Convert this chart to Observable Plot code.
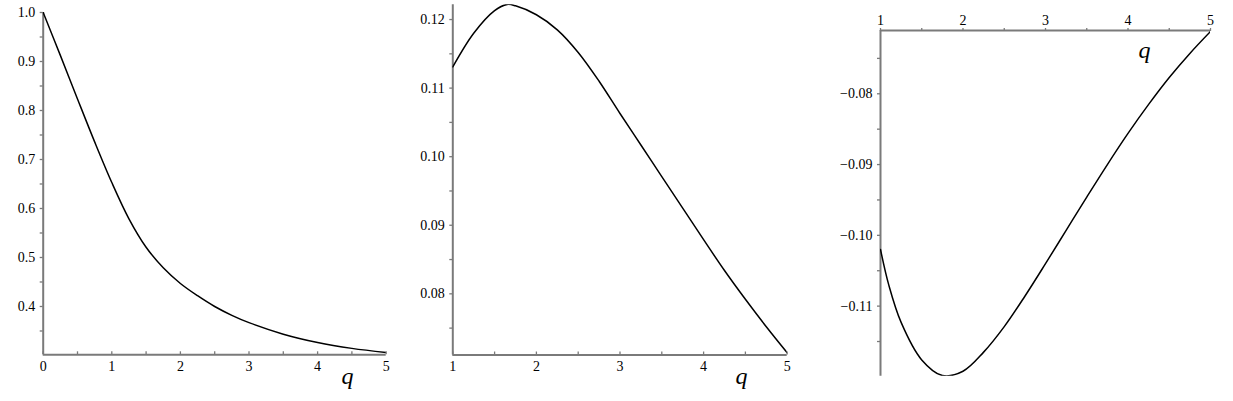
<!DOCTYPE html>
<html><head><meta charset="utf-8">
<script src="https://cdn.jsdelivr.net/npm/d3@7"></script>
<script src="https://cdn.jsdelivr.net/npm/@observablehq/plot@0.6"></script>
<style>
body{margin:0;background:#fff;}
#wrap{position:relative;width:1233px;height:401px;overflow:hidden;background:#fff;}
#wrap svg{position:absolute;top:0;font-family:"Liberation Serif","Times New Roman",serif !important;font-size:14px !important;}
</style></head><body><div id="wrap"></div>
<script>
// ---- Panel 1 data ----
const q1 = [0,0.25,0.5,0.75,1,1.25,1.5,1.75,2,2.25,2.5,2.75,3,3.5,4,4.5,5];
const v1 = [1.0,0.9125,0.8235,0.736,0.653,0.579,0.521,0.479,0.447,0.422,0.400,0.382,0.367,0.3435,0.3265,0.3145,0.306];
const xTicks1 = [0,1,2,3,4,5];
const xMinor1 = [0,0.5,1,1.5,2,2.5,3,3.5,4,4.5,5];
const yTicks1 = [0.4,0.5,0.6,0.7,0.8,0.9,1.0];
const yMinor1 = [0.35,0.4,0.45,0.5,0.55,0.6,0.65,0.7,0.75,0.8,0.85,0.9,0.95,1.0];

// ---- Panel 2 data ----
const q2 = [1,1.25,1.5,1.65,1.75,2,2.25,2.5,2.75,3,3.25,3.5,3.75,4,4.25,4.5,4.75,5];
const v2 = [0.1131,0.1180,0.1213,0.1222,0.1220,0.1207,0.1185,0.1152,0.1110,0.1063,0.1017,0.0971,0.0925,0.0879,0.0834,0.0792,0.0752,0.0714];
const xTicks2 = [1,2,3,4,5];
const xMinor2 = [1,1.5,2,2.5,3,3.5,4,4.5,5];
const yTicks2 = [0.08,0.09,0.10,0.11,0.12];
const yMinor2 = [0.075,0.08,0.085,0.09,0.095,0.10,0.105,0.11,0.115,0.12];

// ---- Panel 3 data ----
const q3 = [1,1.1,1.25,1.5,1.75,2,2.25,2.5,2.75,3,3.25,3.5,3.75,4,4.25,4.5,4.75,5];
const v3 = [-0.1020,-0.1070,-0.1123,-0.1176,-0.1198,-0.1192,-0.1165,-0.1129,-0.1086,-0.1040,-0.0993,-0.0946,-0.0900,-0.0856,-0.0815,-0.0777,-0.0743,-0.0712];
const xTicks3 = [1,2,3,4,5];
const xMinor3 = [1,1.5,2,2.5,3,3.5,4,4.5,5];
const yTicks3 = [-0.11,-0.10,-0.09,-0.08];
const yMinor3 = [-0.115,-0.11,-0.105,-0.10,-0.095,-0.09,-0.085,-0.08,-0.075];

const axisLabel = ["q"];
const GRAY = "#7a7a7a";
const SERIF = "'Liberation Serif','Times New Roman',serif";
const fmt = n => v => (v < 0 ? "\u2212" : "") + Math.abs(v).toFixed(n);

function panel(o) {
  const data = o.q.map((q, i) => ({q, v: o.v[i]}));
  const top = o.xAnchor === "top";
  return Plot.plot({
    width: o.width, height: 401,
    marginLeft: o.ml, marginRight: o.mr, marginTop: o.mt, marginBottom: o.mb,
    x: {domain: o.xDomain},
    y: {domain: o.yDomain},
    style: {fontFamily: SERIF, fontSize: "14px", color: "#000", background: "#fff"},
    marks: [
      Plot.ruleX([o.xDomain[0]], {stroke: GRAY, strokeWidth: 2}),
      Plot.ruleY([top ? o.yDomain[1] : o.yDomain[0]], {stroke: GRAY, strokeWidth: 2}),
      Plot.axisX(o.xMinor, {anchor: o.xAnchor, label: null, tickSize: top ? 3 : -3, text: null, stroke: GRAY, strokeWidth: 1.3}),
      Plot.axisX(o.xTicks, {anchor: o.xAnchor, label: null, tickSize: 0, tickPadding: 6, tickFormat: d => String(d),
        fill: "#000", fontFamily: SERIF, fontSize: 14}),
      Plot.axisY(o.yMinor, {anchor: "left", label: null, tickSize: 3, text: null, stroke: GRAY, strokeWidth: 1.3}),
      Plot.axisY(o.yTicks, {anchor: "left", label: null, tickSize: 0, tickPadding: 8, tickFormat: fmt(o.digits),
        fill: "#000", fontFamily: SERIF, fontSize: 14}),
      Plot.line(data, {x: "q", y: "v", curve: "catmull-rom", stroke: "#000", strokeWidth: 1.5, clip: true}),
      Plot.text(axisLabel, {frameAnchor: o.qAnchor, dx: o.qdx, dy: o.qdy, text: d => d, lineAnchor: "bottom",
        fontStyle: "italic", fontSize: 24, fontFamily: SERIF, fill: "#000"})
    ]
  });
}

const wrap = document.getElementById("wrap");
const p1 = panel({q: q1, v: v1, width: 400, ml: 42.7, mr: 14.3, mt: 12, mb: 46.7,
  xDomain: [0, 5], yDomain: [0.3014, 1.0], xTicks: xTicks1, xMinor: xMinor1, yTicks: yTicks1, yMinor: yMinor1,
  digits: 1, xAnchor: "bottom", qAnchor: "bottom-right", qdx: -32.7, qdy: 29});
p1.style.left = "0px";
const p2 = panel({q: q2, v: v2, width: 420, ml: 52.3, mr: 33.3, mt: 4.3, mb: 46.5,
  xDomain: [1, 5], yDomain: [0.07108, 0.12215], xTicks: xTicks2, xMinor: xMinor2, yTicks: yTicks2, yMinor: yMinor2,
  digits: 2, xAnchor: "bottom", qAnchor: "bottom-right", qdx: -39.7, qdy: 29});
p2.style.left = "400px";
const p3 = panel({q: q3, v: v3, width: 423, ml: 70, mr: 23, mt: 30, mb: 25.3,
  xDomain: [1, 5], yDomain: [-0.1199, -0.07106], xTicks: xTicks3, xMinor: xMinor3, yTicks: yTicks3, yMinor: yMinor3,
  digits: 2, xAnchor: "top", qAnchor: "top-right", qdx: -60, qdy: 27});
p3.style.left = "810px";
wrap.append(p1, p2, p3);
</script>
</body></html>
